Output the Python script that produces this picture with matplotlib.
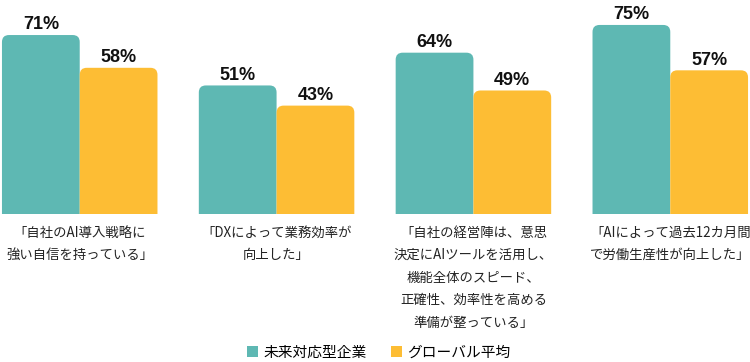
import numpy as np
import matplotlib
matplotlib.use("Agg")
import matplotlib.pyplot as plt
from matplotlib.patches import FancyBboxPatch, Rectangle

plt.rcParams['font.family'] = ['Noto Sans CJK JP', 'DejaVu Sans']

categories = [
    "「自社のAI導入戦略に\n強い自信を持っている」",
    "「DXによって業務効率が\n向上した」",
    "「自社の経営陣は、意思\n決定にAIツールを活用し、\n機能全体のスピード、\n正確性、効率性を高める\n準備が整っている」",
    "「AIによって過去12カ月間\nで労働生産性が向上した」",
]
future_ready = [71, 51, 64, 75]
global_avg = [58, 43, 49, 57]
series_names = ["未来対応型企業", "グローバル平均"]
colors = ["#5eb8b3", "#fdbd34"]

fig = plt.figure(figsize=(7.5, 3.62), dpi=100)
ax = fig.add_axes([0, 1 - 214 / 362, 1, 214 / 362])

x = np.arange(len(categories))
width = 0.395
ax.set_xlim(-0.405, 3.405)
ax.set_ylim(0, 84.9)

# units -> pixels, used to keep the corner radius round
px_x = 750 / (ax.get_xlim()[1] - ax.get_xlim()[0])
px_y = 214 / (ax.get_ylim()[1] - ax.get_ylim()[0])
radius = 7 / px_x

for vals, offset, color in [(future_ready, -width / 2, colors[0]),
                             (global_avg, width / 2, colors[1])]:
    bars = ax.bar(x + offset, vals, width, color=color, alpha=0)
    for b, v in zip(bars, vals):
        left = b.get_x()
        patch = FancyBboxPatch((left, -10), b.get_width(), v + 10,
                               boxstyle=f"round,pad=0,rounding_size={radius}",
                               mutation_aspect=px_x / px_y,
                               facecolor=color, edgecolor="none", clip_on=True)
        ax.add_patch(patch)
        ax.annotate(f"{v}%", (left + b.get_width() / 2, v), xytext=(0, 4),
                    textcoords="offset points", ha="center", va="baseline",
                    fontsize=13, fontweight="bold", color="#111111",
                    family=["Liberation Sans", "DejaVu Sans"], clip_on=False,
                    annotation_clip=False)

for xi, label in zip(x, categories):
    ax.text(xi, -4.6, label, ha="center", va="top", fontsize=9.6,
            linespacing=1.78, color="#222222", clip_on=False)

ax.axis("off")

# legend
handles = [Rectangle((0, 0), 1, 1, facecolor=c) for c in colors]
fig.legend(handles, series_names, loc="lower center", ncol=2, frameon=False,
           bbox_to_anchor=(0.505, -0.03), fontsize=10.6, handlelength=0.75,
           handleheight=0.75, handletextpad=0.4, columnspacing=1.6)

fig.savefig("out.png", dpi=100)
